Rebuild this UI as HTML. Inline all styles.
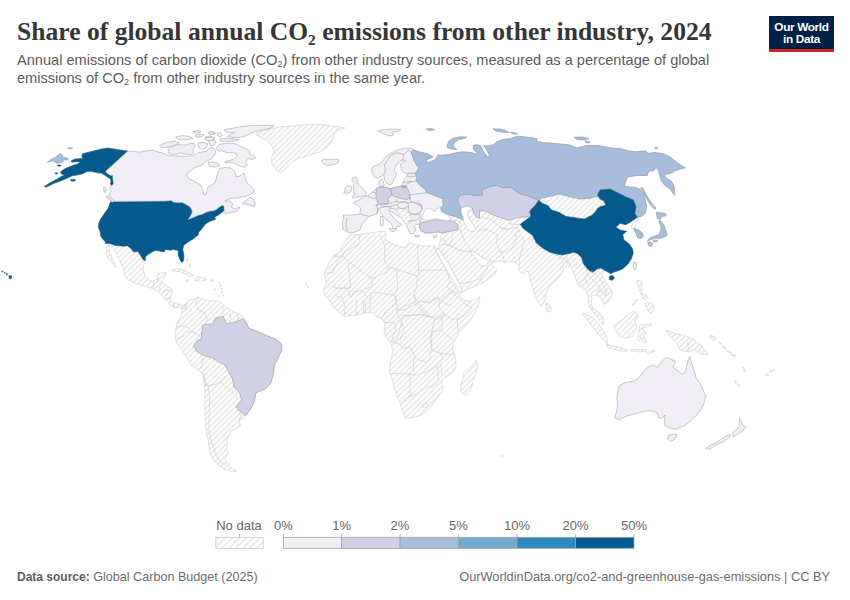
<!DOCTYPE html>
<html><head><meta charset="utf-8">
<style>
html,body{margin:0;padding:0;background:#fff;}
body{width:850px;height:600px;position:relative;overflow:hidden;font-family:"Liberation Sans",sans-serif;}
.t{position:absolute;white-space:nowrap;}
#title{left:17px;top:16.5px;font-family:"Liberation Serif",serif;font-weight:bold;font-size:25.6px;color:#363636;}
#sub1,#sub2{left:17px;font-size:14.6px;color:#5b5b5b;}
#sub1{top:52px;} #sub2{top:70px;}
#src{left:17px;top:569.6px;font-size:12.6px;color:#6b6b6b;}
#url{right:20px;top:569px;font-size:12.8px;color:#6b6b6b;}
#logo{position:absolute;left:769px;top:16px;width:65px;height:36px;background:#002147;}
#logo .bar{position:absolute;left:0;bottom:0;width:100%;height:3px;background:#ce261e;}
#logo .tx{position:absolute;left:0;top:4.5px;width:100%;text-align:center;color:#fff;font-weight:bold;font-size:11.8px;line-height:12.3px;letter-spacing:-0.35px;}
svg{position:absolute;left:0;top:0;}
</style></head><body>
<div class="t" id="title">Share of global annual CO<span style="font-size:0.6em;vertical-align:-0.3em">2</span> emissions from other industry, 2024</div>
<div class="t" id="sub1">Annual emissions of carbon dioxide (CO<span style="font-size:0.62em;vertical-align:-0.25em">2</span>) from other industry sources, measured as a percentage of global</div>
<div class="t" id="sub2">emissions of CO<span style="font-size:0.62em;vertical-align:-0.25em">2</span> from other industry sources in the same year.</div>
<div id="logo"><div class="tx">Our World<br>in Data</div><div class="bar"></div></div>

<svg width="850" height="600" viewBox="0 0 850 600">
<defs>
<pattern id="h" patternUnits="userSpaceOnUse" width="4" height="4" patternTransform="rotate(-45)"><rect x="-1" y="-1" width="6" height="6" fill="#fff"/><line x1="-1" y1="2" x2="5" y2="2" stroke="#e0e0e0" stroke-width="1.3"/></pattern>
<pattern id="h2" patternUnits="userSpaceOnUse" width="7" height="7"><rect width="7" height="7" fill="#fff"/><path d="M-1,1 l2,-2 M0,7 l7,-7 M6,8 l2,-2" stroke="#e6e6e6" stroke-width="1.3"/></pattern>
</defs>
<g id="legend" font-family="Liberation Sans" font-size="13" fill="#666">
<text x="216.2" y="530">No data</text>
<rect x="215.8" y="537.3" width="47.4" height="11" fill="url(#h2)" stroke="#cacaca" stroke-width="0.8"/>
<line x1="239.5" y1="534" x2="239.5" y2="537.3" stroke="#aaa" stroke-width="0.8"/>
<g stroke="#a3a3a3" stroke-width="0.8">
<rect x="283.4" y="537.3" width="58.2" height="11" fill="#f1eef6"/>
<rect x="341.6" y="537.3" width="58.4" height="11" fill="#d0d1e6"/>
<rect x="400" y="537.3" width="58.4" height="11" fill="#a6bddb"/>
<rect x="458.4" y="537.3" width="58.6" height="11" fill="#74a9cf"/>
<rect x="517" y="537.3" width="58.6" height="11" fill="#2b8cbe"/>
<rect x="575.6" y="537.3" width="58.4" height="11" fill="#045a8d"/>
<path d="M283.4,534V537.3M341.6,534V537.3M400,534V537.3M458.4,534V537.3M517,534V537.3M575.6,534V537.3M634,534V537.3" fill="none"/>
</g>
<text x="283.4" y="530" text-anchor="middle">0%</text>
<text x="341.6" y="530" text-anchor="middle">1%</text>
<text x="400" y="530" text-anchor="middle">2%</text>
<text x="458.4" y="530" text-anchor="middle">5%</text>
<text x="517" y="530" text-anchor="middle">10%</text>
<text x="575.6" y="530" text-anchor="middle">20%</text>
<text x="634" y="530" text-anchor="middle">50%</text>
</g>
<g id="map" stroke-width="0.6" stroke-linejoin="round">
<path d="M104.9,243.2 110.1,243.6 115.3,245.4 124.0,246.2 127.5,245.8 131.0,248.4 133.6,251.9 137.9,251.4 140.5,255.3 143.1,259.7 145.3,260.5 144.0,264.0 143.1,270.1 144.8,275.3 148.3,279.6 152.6,281.4 157.8,278.8 158.2,273.8 164.1,272.1 166.5,273.2 164.1,277.4 161.8,282.1 168.8,286.8 172.4,290.3 171.2,295.0 170.0,299.7 173.5,303.2 179.4,304.4 183.0,305.6 186.0,305.0 190.0,301.0 194.0,299.0 196.0,302.0 190.0,307.0 185.3,310.3 183.0,308.0 179.4,306.8 174.7,308.0 170.0,304.4 165.3,299.7 161.8,295.0 155.9,290.3 151.8,288.3 146.6,286.6 139.6,284.8 132.7,282.2 126.6,278.8 124.0,274.4 123.2,267.5 120.5,262.3 117.1,255.3 112.7,246.7 110.1,245.0 109.3,248.4 110.1,253.6 112.7,259.7 116.2,265.8 115.3,267.5 111.0,261.4 106.7,256.2 106.7,251.0 105.8,243.2Z" fill="url(#h)" stroke="#cfcfcf"/>
<path d="M171.2,270.3 177.0,268.5 182.9,269.7 188.8,272.6 194.1,275.6 188.8,276.2 185.3,273.8 179.4,271.5 174.7,271.5Z" fill="url(#h)" stroke="#cfcfcf"/>
<path d="M197.0,276.8 202.9,277.4 207.6,279.7 200.6,281.5 194.7,280.3Z" fill="url(#h)" stroke="#cfcfcf"/>
<path d="M185.3,280.0 189.4,280.2 188.5,281.6 185.8,281.3Z" fill="url(#h)" stroke="#cfcfcf"/>
<path d="M210.0,280.0 213.5,280.0 213.0,281.2 210.3,281.2Z" fill="url(#h)" stroke="#cfcfcf"/>
<path d="M187.0,259.0 188.5,259.5 188.0,262.0 186.8,261.0Z" fill="url(#h)" stroke="#cfcfcf"/>
<path d="M189.5,264.0 191.0,265.0 190.2,266.8 189.2,265.5Z" fill="url(#h)" stroke="#cfcfcf"/>
<path d="M256.0,133.0 270.0,129.0 280.0,127.0 300.0,125.0 320.0,124.4 334.0,126.0 345.0,128.0 338.0,130.0 334.0,134.0 332.0,142.0 326.0,148.0 320.0,152.0 310.0,155.0 300.0,158.0 292.0,162.0 286.0,168.0 281.0,173.0 276.0,170.0 272.0,164.0 271.0,158.0 274.0,152.0 272.0,146.0 266.0,140.0 260.0,137.0 256.0,135.0Z" fill="url(#h)" stroke="#cfcfcf"/>
<path d="M111.0,201.4 165.0,201.1 171.9,200.4 172.6,201.9 176.5,202.6 182.6,202.6 185.6,204.2 189.5,206.5 191.8,209.5 192.1,212.6 190.2,216.4 188.3,219.5 191.8,217.9 195.6,216.4 197.9,215.3 201.7,214.5 206.3,212.2 210.1,211.1 213.9,210.7 217.0,209.1 220.0,206.5 222.3,205.3 223.9,206.1 224.3,210.3 223.1,211.4 218.5,214.9 214.7,217.2 215.5,219.5 210.9,221.0 207.8,222.5 205.5,224.1 203.2,227.1 200.9,230.0 198.9,231.9 198.1,234.9 193.5,238.8 187.4,242.6 183.6,245.6 182.8,249.5 184.0,255.6 183.6,260.9 181.7,262.5 179.8,259.4 178.2,255.6 178.2,250.2 175.9,250.2 173.6,249.5 170.6,250.2 165.2,249.5 164.5,251.8 161.4,251.8 159.9,251.0 155.3,250.6 151.5,252.5 147.6,254.8 145.4,257.1 145.3,260.5 143.1,259.7 140.5,255.3 137.9,251.4 133.6,251.9 131.0,248.4 127.5,245.8 124.0,246.2 115.3,245.4 110.1,243.6 104.9,243.2 105.8,242.2 103.3,239.7 100.8,236.3 100.0,231.3 98.3,227.2 98.8,223.0 100.8,218.8 104.2,213.8 108.3,208.0 110.0,203.0Z" fill="#045a8d" stroke="#2f5f85"/>
<path d="M127.9,151.1 120.5,150.1 114.2,149.0 107.8,147.9 101.4,149.0 95.1,150.6 88.7,152.2 82.4,153.8 81.8,157.0 82.9,159.1 80.3,158.5 75.0,159.1 71.3,160.7 71.8,162.2 77.1,161.7 80.3,162.2 78.1,163.8 72.8,165.4 67.5,167.5 63.3,169.7 60.7,171.8 61.2,173.9 64.4,175.0 61.2,176.5 55.9,179.7 50.6,182.4 44.2,186.6 46.4,187.1 53.8,183.4 61.2,180.8 67.5,178.1 71.8,176.0 77.1,175.0 82.4,173.9 86.6,171.8 89.8,171.3 93.0,171.8 97.2,172.8 101.0,173.0 105.0,175.3 107.7,177.3 110.3,178.7 111.0,181.3 110.3,184.0 111.7,185.7 113.7,184.0 113.0,180.0 112.7,175.3 110.3,175.3 107.0,173.3 105.7,171.3Z" fill="#045a8d" stroke="#2f5f85"/>
<path d="M70.7,179.6 73.5,179.2 76.0,180.0 73.5,181.3 71.0,181.0Z" fill="#045a8d" stroke="#2f5f85"/>
<path d="M57.0,165.2 59.5,164.9 61.2,165.6 59.0,166.5Z" fill="#045a8d" stroke="#2f5f85"/>
<path d="M54.8,173.0 57.0,172.8 58.0,173.6 56.0,174.2Z" fill="#045a8d" stroke="#2f5f85"/>
<path d="M9.0,275.5 11.5,276.0 11.5,278.5 9.5,279.0 9.0,277.0Z" fill="#045a8d" stroke="#2f5f85"/>
<path d="M6.3,273.5 7.8,274.0 7.3,275.0 6.0,274.6Z" fill="#045a8d" stroke="#2f5f85"/>
<path d="M4.2,272.2 5.4,272.5 5.0,273.3 4.0,273.0Z" fill="#045a8d" stroke="#2f5f85"/>
<path d="M1.8,270.8 2.9,271.0 2.7,271.9 1.6,271.7Z" fill="#045a8d" stroke="#2f5f85"/>
<path d="M127.9,151.1 140.0,152.0 152.0,150.0 158.0,152.0 162.8,153.0 168.0,155.5 178.3,156.2 187.3,156.2 193.8,155.5 197.7,153.0 202.9,151.6 206.7,151.6 208.5,148.5 212.0,147.5 215.0,149.5 216.0,153.0 213.2,156.8 210.6,159.4 206.7,160.7 202.0,165.0 194.0,168.0 188.0,173.0 187.0,175.0 189.0,179.0 194.0,181.0 195.0,182.0 201.0,185.0 202.5,189.0 204.0,195.0 206.0,194.0 208.0,187.0 210.0,186.0 215.0,183.0 216.0,180.0 217.0,175.0 220.0,168.0 222.0,168.0 225.0,167.5 231.0,168.0 235.0,172.0 236.0,176.5 240.0,176.0 244.0,173.0 245.0,177.0 247.0,183.0 251.0,186.0 254.0,190.0 253.0,193.0 249.0,195.0 243.0,197.0 237.0,198.0 233.0,198.0 229.0,199.0 225.0,201.0 230.0,201.0 233.0,204.0 231.0,207.0 235.0,209.0 239.0,207.0 240.0,208.0 237.0,211.0 229.0,213.0 225.0,214.0 225.0,211.0 224.3,210.3 223.9,206.1 222.3,205.3 220.0,206.5 217.0,209.1 213.9,210.7 210.1,211.1 206.3,212.2 201.7,214.5 197.9,215.3 195.6,216.4 191.8,217.9 188.3,219.5 190.2,216.4 192.1,212.6 191.8,209.5 189.5,206.5 185.6,204.2 182.6,202.6 176.5,202.6 172.6,201.9 171.9,200.4 165.0,201.1 111.0,201.4 109.0,199.5 107.0,197.5 109.0,195.3 111.0,191.3 109.7,190.0 111.0,186.5 111.7,185.7 113.7,184.0 113.0,180.0 112.7,175.3 110.3,175.3 107.0,173.3 105.7,171.3Z" fill="#f1eef6" stroke="#a8a8a8"/>
<path d="M106.3,196.5 108.0,196.0 112.0,199.0 113.7,201.0 112.5,202.0 109.5,199.5 107.0,198.0Z" fill="#f1eef6" stroke="#a8a8a8"/>
<path d="M103.5,187.5 105.0,187.3 106.5,189.0 105.5,192.5 104.0,192.0Z" fill="#f1eef6" stroke="#a8a8a8"/>
<path d="M242.0,204.0 247.0,200.0 250.0,197.0 253.0,199.0 255.0,202.0 255.0,206.0 252.0,206.0 249.0,205.0 245.0,204.0Z" fill="#f1eef6" stroke="#a8a8a8"/>
<path d="M159.5,145.8 165.3,142.6 174.4,141.3 179.6,142.6 174.4,145.2 168.0,147.0 161.5,147.8Z" fill="#f1eef6" stroke="#a8a8a8"/>
<path d="M169.2,147.8 178.3,144.5 184.8,145.2 188.6,143.9 193.8,143.2 195.1,146.5 192.5,149.7 193.8,153.0 190.0,154.5 184.8,154.0 179.6,153.0 175.7,154.5 169.2,154.0 168.0,151.6Z" fill="#f1eef6" stroke="#a8a8a8"/>
<path d="M208.0,162.0 217.0,162.6 219.7,165.9 214.5,167.2 209.3,165.9Z" fill="#f1eef6" stroke="#a8a8a8"/>
<path d="M216.3,148.3 218.9,144.9 224.1,143.6 231.0,143.1 236.2,144.0 241.4,146.6 245.7,148.3 250.1,150.9 249.2,153.5 253.5,156.1 256.1,157.9 251.8,159.6 248.3,158.7 245.7,162.2 247.5,164.8 244.9,167.4 240.5,166.5 237.1,164.8 233.6,163.1 230.1,162.2 225.8,163.1 224.9,161.3 230.1,160.5 234.5,158.7 237.1,156.1 236.2,153.5 232.7,152.7 226.7,152.7 222.3,150.9 218.0,150.9Z" fill="#f1eef6" stroke="#a8a8a8"/>
<path d="M235.3,127.5 244.0,126.2 252.7,125.4 261.3,125.4 274.3,125.4 272.6,127.5 265.7,129.3 257.0,131.0 251.8,132.7 244.9,136.2 237.9,137.9 231.0,137.1 227.5,136.2 231.0,134.5 234.5,132.7 231.0,132.7 225.8,131.9 224.1,130.1 227.5,128.8 232.7,128.4Z" fill="#f1eef6" stroke="#a8a8a8"/>
<path d="M219.7,138.8 226.7,138.4 233.6,138.8 238.8,139.7 236.2,141.0 227.5,141.4 220.6,141.0Z" fill="#f1eef6" stroke="#a8a8a8"/>
<path d="M208.5,132.5 213.0,131.9 215.4,133.5 211.0,134.5Z" fill="#f1eef6" stroke="#a8a8a8"/>
<path d="M217.1,133.0 220.0,132.7 222.3,135.5 220.0,137.1 217.5,135.5Z" fill="#f1eef6" stroke="#a8a8a8"/>
<path d="M205.0,137.0 210.0,136.2 214.5,137.5 212.0,140.5 206.0,140.0Z" fill="#f1eef6" stroke="#a8a8a8"/>
<path d="M175.7,137.0 182.0,135.5 190.0,136.5 193.0,138.5 186.0,139.8 178.0,139.8Z" fill="#f1eef6" stroke="#a8a8a8"/>
<path d="M195.0,135.5 200.0,134.0 204.0,135.0 201.0,137.0 196.0,137.0Z" fill="#f1eef6" stroke="#a8a8a8"/>
<path d="M208.0,132.5 213.0,131.5 215.0,133.5 210.0,134.5Z" fill="#f1eef6" stroke="#a8a8a8"/>
<path d="M193.0,131.5 198.0,130.5 201.0,132.0 196.0,133.0Z" fill="#f1eef6" stroke="#a8a8a8"/>
<path d="M206.0,137.5 212.0,137.0 215.0,139.5 210.0,141.0 206.0,140.0Z" fill="#f1eef6" stroke="#a8a8a8"/>
<path d="M198.0,143.0 203.0,142.2 207.7,143.5 206.5,147.5 202.0,149.6 198.5,147.5Z" fill="#f1eef6" stroke="#a8a8a8"/>
<path d="M208.5,140.8 213.0,140.2 216.0,141.8 214.5,145.0 210.5,146.0Z" fill="#f1eef6" stroke="#a8a8a8"/>
<path d="M47.4,162.2 51.7,159.1 55.9,157.0 60.1,153.2 62.2,154.8 63.3,157.5 67.5,158.0 68.1,159.6 64.4,160.1 61.2,162.8 57.0,163.3 52.7,160.7 49.5,161.7Z" fill="#a6bddb" stroke="#8e98a6"/>
<path d="M67.5,148.3 70.0,147.4 72.8,148.2 70.5,149.0Z" fill="#a6bddb" stroke="#8e98a6"/>
<path d="M321.0,161.0 324.0,159.0 330.0,159.6 338.0,159.0 339.0,162.0 334.0,164.4 328.0,165.6 324.0,164.0Z" fill="#f1eef6" stroke="#a8a8a8"/>
<path d="M378.0,131.0 384.0,129.5 392.0,129.0 401.0,129.5 398.0,131.5 392.0,132.0 394.0,135.0 389.0,136.0 384.0,134.0Z" fill="#f1eef6" stroke="#a8a8a8"/>
<path d="M186.0,309.0 184.0,305.0 190.0,300.0 198.0,297.0 203.0,299.0 210.0,301.0 220.0,301.0 226.0,307.0 234.0,312.0 242.0,315.0 246.0,320.0 248.7,328.3 256.1,331.1 267.1,335.7 276.2,339.4 281.7,343.9 281.7,350.4 278.1,357.7 274.4,365.0 273.5,374.2 270.7,383.4 265.2,388.9 256.1,392.6 254.2,401.7 250.6,409.1 246.0,415.5 243.4,419.0 239.0,420.5 240.5,425.3 236.5,428.5 230.8,431.0 229.4,435.5 226.6,440.0 228.0,445.0 226.0,448.0 228.7,452.5 225.0,458.0 226.6,462.0 231.0,468.0 237.0,471.0 232.0,472.0 225.0,469.4 218.0,465.0 214.0,461.0 210.0,454.0 209.0,445.0 207.5,437.0 206.0,431.0 205.0,416.0 205.0,394.0 204.0,382.0 203.0,374.0 198.0,370.0 192.0,366.0 187.0,358.0 182.0,350.0 176.0,342.0 175.0,332.0 177.0,323.0 181.0,316.0 182.0,308.0Z" fill="url(#h)" stroke="#cfcfcf"/>
<path d="M202.8,324.7 213.9,323.8 214.8,318.3 223.0,316.4 226.7,323.8 235.9,321.9 243.2,318.3 246.9,324.7 248.7,328.3 256.1,331.1 267.1,335.7 276.2,339.4 281.7,343.9 281.7,350.4 278.1,357.7 274.4,365.0 273.5,374.2 270.7,383.4 265.2,388.9 256.1,392.6 254.2,401.7 250.6,409.1 246.0,415.5 239.5,410.9 235.9,407.2 241.4,399.9 239.5,392.6 234.0,387.1 232.2,377.9 226.7,368.7 224.9,365.0 217.5,361.4 212.0,357.7 204.7,355.9 201.0,354.0 195.5,350.4 193.7,344.9 197.3,340.3 201.0,339.4 201.9,332.0Z" fill="#d0d1e6" stroke="#9a9a9a"/>
<path d="M435.3,250.3 435.1,246.2 429.4,245.8 424.4,245.8 418.7,245.4 413.7,243.7 409.6,242.9 407.1,244.9 404.7,247.8 399.7,246.6 393.1,244.1 387.4,241.2 384.9,238.4 385.7,234.2 384.9,231.4 379.8,231.4 373.1,232.5 365.3,233.6 359.7,234.7 350.8,234.7 348.5,237.0 345.2,241.4 341.8,245.9 341.3,250.3 337.3,253.7 334.0,256.0 330.6,260.4 327.3,266.0 325.0,270.5 324.5,273.8 325.6,279.4 326.2,283.9 324.0,288.3 323.4,292.8 325.6,296.6 329.4,300.4 332.2,305.0 336.0,309.8 340.7,313.5 344.5,316.4 348.2,315.9 355.8,315.0 362.4,313.5 369.0,312.6 372.7,313.0 375.5,316.4 380.2,317.8 384.0,321.0 385.0,325.8 384.0,331.4 385.9,337.0 389.6,341.8 391.5,345.0 392.5,351.7 390.0,363.3 389.7,373.3 393.3,383.3 395.8,393.3 400.0,403.3 403.3,413.3 405.8,418.3 413.3,417.5 421.7,415.0 428.3,410.0 433.3,403.3 436.7,398.3 439.2,395.0 442.5,391.7 443.3,387.5 441.7,383.3 442.5,380.0 446.7,376.7 450.8,374.2 454.2,370.8 455.8,366.7 455.8,360.0 455.0,356.0 452.8,350.0 453.3,343.3 455.8,338.3 458.3,333.3 461.7,330.0 466.7,325.0 471.7,318.3 476.7,310.0 479.2,301.7 480.0,296.7 475.0,299.2 470.0,301.7 463.3,300.0 460.0,295.0 455.0,286.7 450.0,280.0 446.0,269.0 440.7,259.7Z" fill="url(#h)" stroke="#cfcfcf"/>
<path d="M475.8,360.0 477.5,364.2 477.5,369.2 475.0,375.0 473.3,381.7 470.8,389.2 467.5,394.2 464.2,395.0 460.8,391.7 460.8,385.0 462.9,378.3 463.3,372.5 466.7,370.0 471.7,365.8 474.2,362.5Z" fill="url(#h)" stroke="#cfcfcf"/>
<path d="M412.8,149.8 420.0,152.0 428.0,154.0 433.0,157.0 426.0,160.0 428.0,163.0 436.0,159.0 438.0,155.0 440.0,155.3 448.5,154.6 454.1,153.2 462.6,151.8 471.1,152.5 475.3,153.9 478.1,153.9 473.9,149.7 473.2,145.4 476.7,144.7 481.0,146.1 482.4,149.7 485.2,153.9 488.0,157.4 489.4,155.3 486.6,149.7 483.8,145.4 488.0,146.1 493.7,144.7 496.5,141.9 502.1,139.8 510.6,138.4 517.7,136.2 524.7,136.9 531.8,137.7 537.5,139.1 536.0,141.2 543.1,142.6 553.0,143.3 560.0,144.0 569.2,144.9 576.8,147.9 586.0,145.6 598.2,145.6 610.5,147.9 621.2,148.7 628.8,151.0 636.5,151.8 645.6,151.0 648.7,153.3 654.8,152.5 664.0,154.0 670.1,157.1 676.2,161.7 677.7,163.2 685.4,167.8 679.3,169.3 674.7,170.9 673.1,172.4 667.0,173.9 664.0,175.5 667.0,178.5 671.6,181.6 673.9,186.2 674.7,195.3 670.1,189.2 664.0,184.6 660.9,180.0 659.4,173.9 657.9,169.3 656.3,167.8 653.3,170.9 648.7,170.9 647.2,175.5 636.5,175.5 627.3,177.0 624.2,186.2 628.8,186.9 636.5,187.7 639.5,189.2 644.0,195.0 646.7,206.7 645.3,213.3 641.3,216.7 637.3,217.3 638.7,218.7 634.7,226.7 634.7,228.7 638.7,230.0 642.7,233.3 643.3,236.7 640.0,238.7 637.3,237.3 636.0,233.3 633.3,228.7 631.3,228.0 630.7,222.7 625.3,224.7 620.0,223.3 616.0,227.3 620.0,230.0 626.7,231.3 622.7,234.7 624.0,240.0 629.3,244.0 632.7,249.3 633.3,253.3 631.3,258.7 628.0,264.0 622.7,268.8 617.5,271.0 612.5,272.5 611.0,274.0 609.0,272.5 605.0,270.6 601.0,272.5 602.5,275.0 604.0,279.0 606.0,282.5 610.0,287.5 612.5,292.5 611.0,297.5 607.5,302.5 604.0,304.4 602.5,300.0 599.0,296.0 595.0,295.0 591.3,296.3 591.9,298.8 591.3,303.8 592.5,307.5 596.3,310.6 600.0,313.8 603.1,317.5 603.8,323.1 603.1,325.0 600.0,321.3 596.3,316.3 593.1,311.9 590.0,307.5 588.5,302.5 588.1,296.3 586.0,291.0 582.5,287.5 579.0,286.0 576.0,280.0 574.0,273.8 571.0,267.5 567.5,262.5 565.0,262.0 563.0,263.0 564.0,268.0 562.0,274.0 556.0,280.0 550.0,286.0 546.0,294.0 544.0,303.0 541.0,307.0 537.0,300.0 534.0,292.0 531.0,283.0 530.0,278.0 529.0,273.0 527.0,271.0 524.0,274.0 520.0,272.0 518.0,268.0 520.0,266.0 516.0,263.0 512.7,261.5 507.3,262.3 499.3,261.0 492.7,261.7 492.7,265.0 496.7,269.0 495.3,274.3 490.0,278.3 483.3,282.3 475.3,286.3 468.7,289.0 463.3,291.7 461.3,291.7 459.3,283.7 455.3,275.7 448.7,266.3 443.3,257.0 438.0,249.0 439.3,245.0 440.7,237.0 443.0,233.5 447.0,232.5 442.4,233.0 438.1,231.9 431.8,233.0 425.4,233.0 421.2,230.8 419.6,227.7 419.6,224.5 420.0,221.0 422.0,217.0 430.0,213.0 441.0,209.0 445.0,205.0 444.0,199.0 428.0,192.0 418.0,180.0 415.3,172.6 418.7,167.0 414.0,157.0Z" fill="url(#h)" stroke="#cfcfcf"/>
<path d="M546.0,303.5 548.5,304.0 551.0,308.0 550.0,312.0 547.0,311.5 546.0,307.0Z" fill="url(#h)" stroke="#cfcfcf"/>
<path d="M582.1,314.0 588.5,321.7 594.2,328.8 599.8,335.9 605.5,343.0 607.6,344.4 606.9,337.3 604.1,331.7 601.2,327.4 597.0,321.7 592.7,317.5 587.1,314.7 582.8,313.2Z" fill="url(#h)" stroke="#cfcfcf"/>
<path d="M606.0,344.0 612.0,345.5 618.0,347.0 624.0,348.5 628.0,350.0 626.0,351.5 620.0,350.5 614.0,349.5 608.0,348.0Z" fill="url(#h)" stroke="#cfcfcf"/>
<path d="M614.0,326.0 618.0,322.0 622.0,320.0 628.0,314.0 634.0,311.0 638.0,315.0 635.0,322.0 637.0,328.0 632.0,337.0 624.0,338.0 618.0,335.0 615.0,330.0Z" fill="url(#h)" stroke="#cfcfcf"/>
<path d="M640.0,325.0 645.0,324.5 651.0,324.0 651.5,325.5 645.0,327.0 642.5,329.0 646.0,333.0 643.5,335.0 646.5,342.0 644.5,343.0 641.0,337.0 640.0,341.0 638.0,340.0 638.5,333.0 639.5,328.0Z" fill="url(#h)" stroke="#cfcfcf"/>
<path d="M637.0,280.5 640.5,280.0 642.0,284.0 641.0,288.0 643.0,291.0 640.5,293.0 638.5,289.0 637.5,285.0Z" fill="url(#h)" stroke="#cfcfcf"/>
<path d="M645.0,303.0 650.0,302.5 653.5,305.0 654.0,310.0 651.0,313.0 648.0,311.0 646.0,307.0Z" fill="url(#h)" stroke="#cfcfcf"/>
<path d="M641.5,293.5 646.0,295.0 648.0,298.0 645.0,300.0 642.0,297.0Z" fill="url(#h)" stroke="#cfcfcf"/>
<path d="M637.0,299.0 637.8,299.8 633.0,306.0 632.2,305.2Z" fill="url(#h)" stroke="#cfcfcf"/>
<path d="M631.0,349.6 636.5,349.4 636.0,351.3 631.5,351.5Z" fill="url(#h)" stroke="#cfcfcf"/>
<path d="M637.5,349.6 646.5,349.5 646.0,351.8 638.0,352.0Z" fill="url(#h)" stroke="#cfcfcf"/>
<path d="M647.0,352.5 654.0,350.0 655.0,351.0 648.5,354.3Z" fill="url(#h)" stroke="#cfcfcf"/>
<path d="M666.0,330.0 676.0,334.0 684.0,335.0 694.0,340.0 702.0,346.0 708.0,355.0 700.0,354.0 694.0,350.0 688.0,352.0 680.0,350.0 676.0,342.0 672.0,338.0 668.0,334.0Z" fill="url(#h)" stroke="#cfcfcf"/>
<path d="M709.0,336.0 714.0,337.0 716.0,340.0 712.0,340.0Z" fill="url(#h)" stroke="#cfcfcf"/>
<path d="M619.2,385.6 624.0,383.2 633.5,380.9 638.2,378.5 643.0,372.2 647.7,367.4 652.5,365.0 657.2,367.4 660.4,362.7 665.9,357.6 671.5,359.5 675.4,361.1 673.0,367.4 677.8,370.6 682.5,374.5 685.7,370.6 687.3,362.7 689.7,356.6 692.0,364.2 693.6,369.0 696.0,377.7 699.9,383.2 703.1,389.6 705.5,395.9 704.7,402.2 701.5,408.5 696.8,414.9 690.4,421.2 684.1,425.9 676.2,429.1 671.5,428.3 665.1,425.9 664.3,419.6 665.1,414.9 662.0,418.0 658.8,418.0 657.2,413.3 652.5,410.9 646.1,410.9 639.8,412.5 633.5,414.1 625.6,416.5 619.2,419.6 614.5,418.0 616.1,413.3 617.7,405.4 616.9,397.5 617.7,391.1Z" fill="#f1eef6" stroke="#a8a8a8"/>
<path d="M668.5,435.0 677.0,434.0 675.0,439.0 670.5,441.8 667.5,439.0Z" fill="#f1eef6" stroke="#a8a8a8"/>
<path d="M739.5,418.5 741.5,421.0 742.0,424.5 746.5,427.0 744.0,430.0 738.0,434.0 733.0,437.0 733.0,432.0 737.0,429.0 739.5,425.5 739.0,422.0Z" fill="#f1eef6" stroke="#a8a8a8"/>
<path d="M730.0,434.5 730.5,436.5 723.0,442.0 716.0,445.0 709.0,449.5 705.5,448.5 710.0,445.5 718.0,441.5 727.0,435.5Z" fill="#f1eef6" stroke="#a8a8a8"/>
<path d="M376.7,188.2 381.4,186.8 382.4,186.8 385.2,187.3 390.8,188.7 394.6,187.3 400.2,187.3 401.2,186.0 403.0,182.6 404.0,179.8 407.0,176.0 407.0,173.8 416.0,173.8 417.0,173.0 418.0,180.0 428.0,192.0 444.0,199.0 445.0,205.0 441.0,209.0 430.0,213.0 422.0,217.0 420.0,221.0 419.6,224.5 417.0,224.0 414.5,226.0 415.5,230.0 414.0,233.5 411.0,234.0 410.0,233.5 408.5,230.5 407.0,226.0 406.3,224.5 404.0,221.5 401.8,218.5 398.8,216.3 395.0,214.0 391.3,211.8 389.0,209.5 389.8,212.5 392.8,217.0 396.5,220.8 399.5,223.0 401.8,224.5 400.0,226.5 397.3,226.0 396.5,228.0 395.8,230.0 393.5,229.4 392.5,226.0 390.5,223.0 386.0,219.5 381.0,213.3 378.0,209.5 376.7,214.0 369.0,216.4 366.0,219.5 361.4,225.6 360.0,230.0 353.8,232.5 349.0,233.0 347.0,231.7 343.0,229.4 342.3,222.5 343.8,218.0 343.0,215.0 352.0,215.0 360.0,214.0 360.5,208.0 358.0,205.0 353.2,203.3 355.0,201.4 358.8,200.5 360.7,198.6 363.5,197.2 367.3,195.8 369.2,194.8 372.0,192.0 374.8,190.1Z" fill="#f1eef6" stroke="#a8a8a8"/>
<path d="M371.8,169.3 372.5,167.0 377.8,164.8 381.5,162.5 384.5,158.8 387.5,155.8 391.3,152.8 396.5,150.5 401.8,148.6 407.0,147.9 411.5,148.6 413.8,149.8 411.5,152.8 413.0,157.3 414.5,161.0 416.8,165.5 419.0,167.8 417.5,170.8 415.3,173.0 411.5,173.0 407.0,173.4 403.3,172.3 401.8,170.0 401.0,167.0 400.3,164.0 402.5,162.5 405.5,161.0 404.0,159.9 400.3,161.0 397.3,164.0 395.0,167.8 394.3,170.8 396.5,173.0 395.8,176.0 394.3,179.0 392.8,182.0 391.3,184.3 389.8,185.0 386.8,183.5 384.5,179.8 383.8,174.5 381.5,176.0 377.8,178.3 374.8,177.5 372.5,174.5 371.8,170.0Z" fill="#f1eef6" stroke="#a8a8a8"/>
<path d="M379.5,186.4 378.6,182.6 379.5,180.2 382.4,179.3 383.3,181.6 384.2,184.5 382.4,186.8Z" fill="#f1eef6" stroke="#a8a8a8"/>
<path d="M352.2,177.9 356.0,177.0 357.9,179.8 357.0,182.6 358.8,184.5 361.6,187.3 364.5,190.1 366.4,193.0 365.4,195.3 361.6,196.2 357.0,196.7 352.2,198.1 353.2,195.8 355.0,193.9 353.2,192.0 354.1,189.2 353.2,186.4 354.1,183.5 352.2,180.7Z" fill="#f1eef6" stroke="#a8a8a8"/>
<path d="M344.7,191.1 345.6,187.3 348.5,185.4 351.3,186.4 351.8,189.2 350.4,192.0 346.6,193.4 343.8,192.9Z" fill="#f1eef6" stroke="#a8a8a8"/>
<path d="M389.0,228.6 393.0,228.4 396.6,229.0 394.0,231.7 390.0,230.5Z" fill="#f1eef6" stroke="#a8a8a8"/>
<path d="M380.5,216.5 382.5,216.5 383.5,221.0 383.0,226.0 380.5,225.5 380.0,221.0Z" fill="#f1eef6" stroke="#a8a8a8"/>
<path d="M396.5,208.8 402.5,208.4 405.5,209.5 408.0,212.0 410.0,215.0 411.5,218.5 410.8,221.5 408.5,223.0 406.3,224.5 404.0,221.5 401.8,218.5 399.8,216.8 398.5,213.5 397.3,211.8Z" fill="url(#h)" stroke="#cfcfcf"/>
<path d="M376.7,188.2 381.4,186.8 385.2,187.3 390.8,188.7 391.3,192.0 392.2,194.8 389.9,196.7 388.0,198.6 388.9,201.9 388.0,203.8 383.3,204.2 379.5,203.8 377.6,201.4 376.2,197.6 375.8,192.9Z" fill="#d0d1e6" stroke="#9a9a9a"/>
<path d="M390.8,188.7 394.6,187.3 401.2,186.4 406.8,187.3 408.7,191.1 409.6,194.8 410.1,198.6 405.9,199.5 401.2,198.6 396.5,197.2 392.7,195.8 392.2,194.8 391.3,192.0Z" fill="#d0d1e6" stroke="#9a9a9a"/>
<path d="M414.1,235.6 417.0,235.0 419.9,235.8 418.0,237.1 415.0,236.8Z" fill="#f1eef6" stroke="#a8a8a8"/>
<path d="M433.0,236.5 435.5,235.2 437.6,235.5 436.0,237.5 433.8,238.0Z" fill="#f1eef6" stroke="#a8a8a8"/>
<path d="M419.6,224.5 421.2,222.4 427.5,221.3 435.0,219.7 442.4,220.3 448.7,220.8 454.0,221.3 457.7,224.5 458.3,229.8 453.0,230.8 446.6,231.9 442.4,233.0 438.1,231.9 431.8,233.0 425.4,233.0 421.2,230.8 419.6,227.7Z" fill="#d0d1e6" stroke="#9a9a9a"/>
<path d="M457.7,198.4 461.2,194.8 468.2,194.1 475.3,195.5 482.4,194.8 481.7,189.9 488.0,187.1 496.5,184.9 502.1,187.8 510.6,187.1 520.5,194.1 527.6,195.5 537.5,199.8 539.0,200.3 535.0,205.7 532.3,208.3 529.7,211.7 531.0,216.3 529.0,216.7 521.9,216.7 516.3,218.1 509.2,220.3 502.1,218.1 493.7,215.3 485.2,211.1 479.5,210.4 479.5,218.1 476.7,217.4 473.2,212.5 472.5,208.2 469.7,206.8 465.4,206.8 462.6,210.4 459.8,208.2 457.7,202.6Z" fill="#d0d1e6" stroke="#9a9a9a"/>
<path d="M412.8,149.8 420.0,152.0 428.0,154.0 433.0,157.0 426.0,160.0 428.0,163.0 436.0,159.0 438.0,155.0 440.0,155.3 448.5,154.6 454.1,153.2 462.6,151.8 471.1,152.5 475.3,153.9 478.1,153.9 473.9,149.7 473.2,145.4 476.7,144.7 481.0,146.1 482.4,149.7 485.2,153.9 488.0,157.4 489.4,155.3 486.6,149.7 483.8,145.4 488.0,146.1 493.7,144.7 496.5,141.9 502.1,139.8 510.6,138.4 517.7,136.2 524.7,136.9 531.8,137.7 537.5,139.1 536.0,141.2 543.1,142.6 553.0,143.3 560.0,144.0 569.2,144.9 576.8,147.9 586.0,145.6 598.2,145.6 610.5,147.9 621.2,148.7 628.8,151.0 636.5,151.8 645.6,151.0 648.7,153.3 654.8,152.5 664.0,154.0 670.1,157.1 676.2,161.7 677.7,163.2 685.4,167.8 679.3,169.3 674.7,170.9 673.1,172.4 667.0,173.9 664.0,175.5 667.0,178.5 671.6,181.6 673.9,186.2 674.7,195.3 670.1,189.2 664.0,184.6 660.9,180.0 659.4,173.9 657.9,169.3 656.3,167.8 653.3,170.9 648.7,170.9 647.2,175.5 636.5,175.5 627.3,177.0 624.2,186.2 628.8,186.9 636.5,187.7 639.5,189.2 644.0,195.0 646.7,206.7 645.3,213.3 641.3,216.7 637.3,217.3 634.7,213.3 636.0,206.7 633.3,200.0 626.0,197.0 616.0,192.0 610.0,189.0 600.0,190.0 598.0,194.0 598.0,196.0 592.0,198.0 580.0,199.0 570.0,197.0 560.0,194.0 552.0,196.0 542.0,198.0 539.0,200.3 537.5,199.8 527.6,195.5 520.5,194.1 510.6,187.1 502.1,187.8 496.5,184.9 488.0,187.1 481.7,189.9 482.4,194.8 475.3,195.5 468.2,194.1 461.2,194.8 457.7,198.4 457.7,202.6 461.4,207.5 460.4,209.7 461.4,213.9 463.6,220.3 459.3,218.1 453.0,216.0 445.6,213.9 441.3,211.8 440.3,207.5 443.4,205.4 442.4,201.2 443.4,199.0 440.3,198.0 435.0,195.9 430.7,193.8 426.5,192.7 425.4,189.5 421.2,186.4 417.0,182.0 415.9,180.0 416.7,177.7 415.3,173.0 417.5,170.8 419.0,167.8 416.8,165.5 414.5,161.0 413.0,157.3 411.5,152.8Z" fill="#a6bddb" stroke="#8e98a6"/>
<path d="M401.5,185.8 406.0,185.5 406.5,187.3 402.0,187.5Z" fill="#a6bddb" stroke="#8e98a6"/>
<path d="M447.1,146.1 448.5,141.2 452.7,138.4 459.8,136.7 466.8,136.9 465.4,138.4 458.4,139.8 454.1,142.6 453.4,146.1 457.0,149.7 451.3,149.0 447.1,147.5Z" fill="#a6bddb" stroke="#8e98a6"/>
<path d="M493.0,128.8 500.0,129.0 506.0,130.5 509.2,132.5 503.0,132.3 496.0,131.0Z" fill="#a6bddb" stroke="#8e98a6"/>
<path d="M510.0,132.2 514.0,132.5 517.7,134.0 513.0,134.2Z" fill="#a6bddb" stroke="#8e98a6"/>
<path d="M426.0,129.0 432.0,128.5 435.0,130.0 429.0,130.5Z" fill="#a6bddb" stroke="#8e98a6"/>
<path d="M574.0,137.2 583.0,137.0 589.0,138.5 585.0,140.0 577.0,139.8Z" fill="#a6bddb" stroke="#8e98a6"/>
<path d="M654.8,147.5 657.9,147.2 657.5,148.7 655.0,148.6Z" fill="#a6bddb" stroke="#8e98a6"/>
<path d="M585.0,141.0 590.0,141.5 589.0,143.0 585.5,142.5Z" fill="#a6bddb" stroke="#8e98a6"/>
<path d="M640.5,187.5 643.0,188.0 646.0,194.0 649.5,200.0 652.5,204.0 656.0,208.0 654.7,209.5 651.0,205.5 648.0,201.0 644.5,195.0 641.5,190.0Z" fill="#a6bddb" stroke="#8e98a6"/>
<path d="M600.0,190.0 610.0,189.0 616.0,192.0 626.0,197.0 633.3,200.0 636.0,206.7 634.7,213.3 637.3,217.3 630.7,222.0 625.3,224.7 620.0,223.3 616.0,227.3 620.0,230.0 626.7,231.3 622.7,234.7 624.0,240.0 629.3,244.0 632.7,249.3 633.3,253.3 631.3,258.7 628.0,264.0 622.7,268.8 617.5,271.0 612.5,272.5 611.0,274.0 609.0,272.5 605.0,270.6 601.0,268.0 597.5,268.8 592.5,272.5 590.0,271.0 586.0,267.5 585.7,267.0 583.0,263.0 581.7,257.7 577.7,253.7 573.7,252.3 568.3,253.7 561.7,255.0 555.0,253.7 549.7,252.3 543.0,248.3 536.3,243.0 535.0,240.3 532.3,235.0 528.3,232.3 523.0,228.3 520.3,224.3 525.7,220.3 531.0,216.3 529.7,211.7 532.3,208.3 535.0,205.7 539.0,200.3 541.7,203.0 548.3,205.7 551.0,209.7 559.0,212.3 565.7,216.3 575.0,217.7 584.3,219.0 592.3,215.0 595.0,212.3 598.0,208.0 600.0,206.7 605.3,205.3 606.0,206.0 604.0,201.0 600.0,199.0 598.0,196.0 598.0,194.0Z" fill="#045a8d" stroke="#2f5f85"/>
<path d="M609.5,276.0 613.0,275.5 614.5,278.0 612.0,280.5 609.5,279.5Z" fill="#045a8d" stroke="#2f5f85"/>
<path d="M633.5,262.5 635.5,262.0 636.5,265.0 635.5,270.0 634.0,269.5 633.0,266.0Z" fill="#f1eef6" stroke="#a8a8a8"/>
<path d="M634.7,228.7 638.7,230.0 642.7,233.3 643.3,236.7 640.0,238.7 637.3,237.3 636.0,233.3 633.8,229.5Z" fill="#a6bddb" stroke="#8e98a6"/>
<path d="M658.7,221.3 660.0,220.0 664.0,225.3 666.0,230.7 667.3,235.3 665.3,236.7 661.3,238.0 658.7,238.7 656.0,238.0 652.7,239.3 649.3,240.0 647.3,241.3 648.3,239.5 650.7,237.3 654.7,236.0 658.7,234.7 660.0,232.0 661.3,228.0 660.0,224.0Z" fill="#a6bddb" stroke="#8e98a6"/>
<path d="M647.8,242.3 650.0,241.8 652.7,243.3 651.3,246.7 649.3,246.0 648.0,244.0Z" fill="#a6bddb" stroke="#8e98a6"/>
<path d="M653.0,240.5 657.5,240.0 657.0,241.8 653.5,242.0Z" fill="#a6bddb" stroke="#8e98a6"/>
<path d="M656.0,212.0 660.0,212.7 665.3,213.3 666.7,215.3 661.3,217.3 660.0,219.3 657.3,218.7 656.7,215.3Z" fill="#a6bddb" stroke="#8e98a6"/>
<path d="M422.8,215.0 425.4,209.7 428.6,208.0 431.8,209.7 433.9,211.8 437.0,208.6 440.3,207.5 441.3,211.8 445.6,213.9 449.8,216.5 450.8,219.7 446.6,220.8 440.3,219.2 435.0,218.7 430.7,219.2 426.5,220.3 422.8,219.2 421.7,217.0Z" fill="#fff" stroke="#c4c4c4"/>
<path d="M461.2,208.2 465.4,206.8 470.4,206.8 471.8,209.0 468.2,210.4 467.5,213.9 469.7,219.5 473.9,225.2 475.3,229.4 474.0,231.5 470.0,231.2 466.5,228.5 464.0,222.4 462.6,215.3 461.2,211.1Z" fill="#fff" stroke="#c4c4c4"/>
<path d="M435.3,249.1 438.8,249.1 443.5,256.2 449.4,264.4 454.1,273.8 458.8,282.1 461.2,288.0 461.8,293.2 460.0,292.6 457.6,288.0 454.1,282.1 449.4,275.0 444.7,266.8 440.0,258.5Z" fill="#fff" stroke="#c4c4c4"/>
<path d="M470.6,250.3 475.3,252.6 482.4,257.4 487.0,259.7 489.4,260.3 491.5,261.2 489.4,261.8 487.6,263.2 484.7,266.2 481.2,265.6 478.8,263.2 476.5,258.5 471.8,253.8Z" fill="#fff" stroke="#c4c4c4"/>
<path d="M219.0,282.5 220.0,282.5 220.0,283.5 219.0,283.5Z" fill="url(#h)" stroke="#cfcfcf"/>
<path d="M220.0,285.5 221.0,285.5 221.0,286.5 220.0,286.5Z" fill="url(#h)" stroke="#cfcfcf"/>
<path d="M221.0,288.5 222.0,288.5 222.0,289.5 221.0,289.5Z" fill="url(#h)" stroke="#cfcfcf"/>
<path d="M221.3,291.5 222.3,291.5 222.3,292.5 221.3,292.5Z" fill="url(#h)" stroke="#cfcfcf"/>
<path d="M223.0,295.0 224.0,295.0 224.0,296.0 223.0,296.0Z" fill="url(#h)" stroke="#cfcfcf"/>
<path d="M218.5,296.0 219.5,296.0 219.5,297.0 218.5,297.0Z" fill="url(#h)" stroke="#cfcfcf"/>
<path d="M214.5,289.0 215.5,289.0 215.5,290.0 214.5,290.0Z" fill="url(#h)" stroke="#cfcfcf"/>
<path d="M719.0,341.5 721.5,343.0 721.0,344.0 718.7,342.5Z" fill="url(#h)" stroke="#cfcfcf"/>
<path d="M722.5,346.0 726.0,348.0 725.5,349.0 722.0,347.0Z" fill="url(#h)" stroke="#cfcfcf"/>
<path d="M727.5,350.0 731.5,352.0 731.0,353.2 727.0,351.2Z" fill="url(#h)" stroke="#cfcfcf"/>
<path d="M731.0,354.0 735.5,355.5 735.0,356.7 731.0,355.2Z" fill="url(#h)" stroke="#cfcfcf"/>
<path d="M742.7,366.7 744.0,367.5 745.3,371.5 744.0,372.0Z" fill="url(#h)" stroke="#cfcfcf"/>
<path d="M734.0,380.7 736.0,381.0 740.0,385.5 739.0,386.7 735.0,383.0Z" fill="url(#h)" stroke="#cfcfcf"/>
<path d="M769.5,371.0 774.0,369.8 773.5,371.3 770.0,372.5Z" fill="url(#h)" stroke="#cfcfcf"/>
<path d="M766.0,374.0 768.0,373.5 768.5,375.5 766.5,376.0Z" fill="url(#h)" stroke="#cfcfcf"/>
<path d="M711.0,335.0 716.0,337.5 715.5,339.0 712.0,337.0Z" fill="url(#h)" stroke="#cfcfcf"/>
<path d="M305.5,283.0 306.7,283.2 306.5,284.2 305.3,284.0Z" fill="url(#h)" stroke="#cfcfcf"/>
<path d="M307.5,286.0 308.7,286.2 308.5,287.2 307.3,287.0Z" fill="url(#h)" stroke="#cfcfcf"/>
<path d="M333.0,255.0 335.0,254.8 335.2,255.8 333.2,256.0Z" fill="url(#h)" stroke="#cfcfcf"/>
<path d="M501.5,455.5 502.5,455.5 502.5,456.5 501.5,456.5Z" fill="url(#h)" stroke="#cfcfcf"/>
<path d="M198.6,297.3 195.4,303.7 198.6,310.0 205.0,313.2 207.0,317.4 206.0,322.7 201.8,325.9" fill="none" stroke="#cdcdcd"/>
<path d="M223.0,305.8 223.0,316.4" fill="none" stroke="#cdcdcd"/>
<path d="M230.4,313.2 230.4,321.7" fill="none" stroke="#cdcdcd"/>
<path d="M237.8,314.2 237.8,322.7" fill="none" stroke="#cdcdcd"/>
<path d="M176.4,327.0 183.8,325.9 189.0,328.0 193.3,332.3 197.5,334.4 200.7,336.5" fill="none" stroke="#cdcdcd"/>
<path d="M176.4,338.6 180.6,337.6 185.9,334.4 190.0,331.2 193.3,332.3" fill="none" stroke="#cdcdcd"/>
<path d="M185.0,306.0 188.0,303.0" fill="none" stroke="#cdcdcd"/>
<path d="M203.0,357.0 202.0,366.0 198.0,370.0" fill="none" stroke="#cdcdcd"/>
<path d="M204.0,374.0 206.0,386.0 216.0,384.0 220.0,382.0 226.0,376.0" fill="none" stroke="#cdcdcd"/>
<path d="M220.0,382.0 230.0,390.0 236.0,395.0 238.0,400.0" fill="none" stroke="#cdcdcd"/>
<path d="M203.0,374.0 205.5,385.0 208.0,385.0 209.8,400.6 209.0,416.0 209.0,431.0 211.0,440.0 214.0,449.0 216.7,456.7 221.0,462.4 226.6,465.2" fill="none" stroke="#cdcdcd"/>
<path d="M239.0,420.5 241.0,415.0 243.0,412.0" fill="none" stroke="#cdcdcd"/>
<path d="M358.8,235.0 360.0,242.0 354.0,246.8 347.0,250.3 343.5,253.8 343.0,256.2" fill="none" stroke="#cdcdcd"/>
<path d="M334.0,256.2 343.5,256.2" fill="none" stroke="#cdcdcd"/>
<path d="M343.5,256.8 337.6,260.3 336.5,265.6 334.0,268.0 333.0,272.6 324.7,273.2" fill="none" stroke="#cdcdcd"/>
<path d="M343.5,256.8 355.3,266.8 371.8,278.5" fill="none" stroke="#cdcdcd"/>
<path d="M348.2,263.2 350.6,288.0 336.5,288.0 333.0,285.6" fill="none" stroke="#cdcdcd"/>
<path d="M380.0,235.0 384.7,246.8 384.7,262.0 389.4,266.8 385.9,272.6 371.8,278.5 371.8,286.8 364.7,289.1" fill="none" stroke="#cdcdcd"/>
<path d="M389.4,266.8 396.5,269.1 417.6,276.2" fill="none" stroke="#cdcdcd"/>
<path d="M417.6,245.6 418.8,276.2" fill="none" stroke="#cdcdcd"/>
<path d="M418.8,270.3 444.7,270.3" fill="none" stroke="#cdcdcd"/>
<path d="M396.5,269.1 397.6,288.0 395.3,293.8" fill="none" stroke="#cdcdcd"/>
<path d="M417.6,276.2 416.5,288.0 414.0,293.8 415.3,305.0" fill="none" stroke="#cdcdcd"/>
<path d="M449.4,282.0 447.0,286.8 450.6,290.3 457.6,293.8" fill="none" stroke="#cdcdcd"/>
<path d="M420.0,300.9 429.4,302.0 437.6,297.4 442.4,300.9 447.0,305.0 452.0,305.0" fill="none" stroke="#cdcdcd"/>
<path d="M334.7,288.2 347.6,288.2 350.0,296.5" fill="none" stroke="#cdcdcd"/>
<path d="M351.2,297.6 353.5,291.8 363.0,290.6 366.5,296.5 370.0,298.8" fill="none" stroke="#cdcdcd"/>
<path d="M371.8,292.6 379.4,292.9 386.5,294.1 394.7,295.3 395.9,302.4 391.2,307.1 385.3,311.8 383.0,316.5" fill="none" stroke="#cdcdcd"/>
<path d="M371.2,292.9 370.0,302.4 370.0,311.8" fill="none" stroke="#cdcdcd"/>
<path d="M365.3,300.0 365.3,313.0" fill="none" stroke="#cdcdcd"/>
<path d="M363.0,299.4 363.5,313.0" fill="none" stroke="#cdcdcd"/>
<path d="M356.5,300.0 355.9,315.3" fill="none" stroke="#cdcdcd"/>
<path d="M334.7,295.3 341.8,297.6 344.1,303.5 345.3,309.4 344.1,315.3" fill="none" stroke="#cdcdcd"/>
<path d="M395.9,295.3 397.0,305.9 397.0,313.0 400.6,320.0" fill="none" stroke="#cdcdcd"/>
<path d="M398.2,310.6 405.3,309.4 412.4,305.9 418.2,302.4" fill="none" stroke="#cdcdcd"/>
<path d="M414.7,295.3 417.0,301.2 424.1,309.4 430.0,316.5" fill="none" stroke="#cdcdcd"/>
<path d="M384.1,322.4 394.7,322.4 395.9,330.6 393.5,335.3 391.2,341.2" fill="none" stroke="#cdcdcd"/>
<path d="M403.0,315.3 412.4,315.3 421.8,314.1 427.6,316.5 435.0,317.0 442.0,316.0" fill="none" stroke="#cdcdcd"/>
<path d="M403.0,315.3 400.6,327.0 397.0,338.8 392.4,343.5" fill="none" stroke="#cdcdcd"/>
<path d="M397.0,310.0 401.0,308.0 408.0,305.0 415.0,301.0" fill="none" stroke="#cdcdcd"/>
<path d="M416.0,304.0 421.0,301.0 428.0,303.0 435.0,300.0 438.0,297.0 440.0,303.0 439.0,307.0 444.0,314.0 442.0,318.0 435.0,319.0 429.0,317.0 424.0,313.0 418.0,306.0" fill="none" stroke="#cdcdcd"/>
<path d="M406.0,316.0 415.0,315.0 423.0,315.0 429.0,317.0" fill="none" stroke="#cdcdcd"/>
<path d="M440.0,303.0 445.0,296.0 451.0,292.0 459.0,298.0 464.0,303.0 472.0,308.0 465.0,315.0 457.0,319.0 451.0,319.0 444.0,314.0" fill="none" stroke="#cdcdcd"/>
<path d="M457.0,319.0 458.0,332.0" fill="none" stroke="#cdcdcd"/>
<path d="M441.0,330.0 453.0,340.0" fill="none" stroke="#cdcdcd"/>
<path d="M435.0,319.0 433.0,325.0 432.0,332.0 441.0,330.0 443.0,322.0 442.0,318.0" fill="none" stroke="#cdcdcd"/>
<path d="M432.0,332.0 430.0,338.0 432.0,348.0 431.7,350.0" fill="none" stroke="#cdcdcd"/>
<path d="M397.0,320.0 402.0,323.0 404.0,330.0 400.0,340.0" fill="none" stroke="#cdcdcd"/>
<path d="M390.8,341.7 398.3,343.3 403.3,348.3 410.0,346.7 413.3,353.3 415.0,357.5 413.3,361.7 413.3,371.7" fill="none" stroke="#cdcdcd"/>
<path d="M390.0,373.3 410.0,374.2 418.3,375.0" fill="none" stroke="#cdcdcd"/>
<path d="M410.0,375.0 410.0,396.7 408.3,396.7 400.0,403.3" fill="none" stroke="#cdcdcd"/>
<path d="M410.0,396.7 418.3,393.3 426.7,386.7 433.3,386.7" fill="none" stroke="#cdcdcd"/>
<path d="M415.0,357.5 418.3,360.0 426.7,361.7 430.0,360.0 430.0,350.8 433.3,350.0" fill="none" stroke="#cdcdcd"/>
<path d="M418.3,375.0 426.7,371.7 433.3,368.3 436.7,366.7" fill="none" stroke="#cdcdcd"/>
<path d="M433.3,386.7 438.3,381.7 438.3,371.7 436.7,366.7 440.0,363.3 441.7,370.0 441.7,375.0" fill="none" stroke="#cdcdcd"/>
<path d="M431.7,350.0 440.0,353.3 443.3,358.3 440.0,363.3" fill="none" stroke="#cdcdcd"/>
<path d="M440.0,353.3 455.0,355.0" fill="none" stroke="#cdcdcd"/>
<path d="M431.7,330.0 431.7,350.0" fill="none" stroke="#cdcdcd"/>
<path d="M423.0,404.0 426.0,402.5 428.0,405.0 425.0,408.0 422.5,406.5 423.0,404.0" fill="none" stroke="#cdcdcd"/>
<path d="M481.2,217.6 489.4,218.8 496.5,223.5 501.2,228.2 508.2,229.4" fill="none" stroke="#cdcdcd"/>
<path d="M477.6,230.6 487.0,229.4 494.1,233.0 497.6,235.3" fill="none" stroke="#cdcdcd"/>
<path d="M497.6,235.3 496.5,242.4 498.8,249.4 500.0,251.8 503.5,256.5 504.1,263.5" fill="none" stroke="#cdcdcd"/>
<path d="M500.0,251.8 505.9,251.8 513.0,247.0 516.5,238.8 515.3,233.0 520.0,230.6" fill="none" stroke="#cdcdcd"/>
<path d="M520.0,235.3 524.7,241.2 522.4,247.0 521.2,254.1 518.8,258.8 520.0,263.5" fill="none" stroke="#cdcdcd"/>
<path d="M501.2,228.2 508.2,229.4 515.3,227.0 518.8,229.4" fill="none" stroke="#cdcdcd"/>
<path d="M508.2,223.5 520.0,224.7" fill="none" stroke="#cdcdcd"/>
<path d="M510.6,220.0 517.6,217.6 525.9,217.6" fill="none" stroke="#cdcdcd"/>
<path d="M458.8,225.9 462.4,235.3 465.9,243.5 470.6,249.4" fill="none" stroke="#cdcdcd"/>
<path d="M451.8,220.0 458.8,221.2 460.0,224.0" fill="none" stroke="#cdcdcd"/>
<path d="M458.0,229.8 458.8,225.9" fill="none" stroke="#cdcdcd"/>
<path d="M451.8,231.0 451.8,235.3 452.9,238.8 449.4,244.7" fill="none" stroke="#cdcdcd"/>
<path d="M443.0,238.0 447.0,244.7 457.6,249.4 467.0,251.8 470.6,250.5" fill="none" stroke="#cdcdcd"/>
<path d="M442.4,244.4 451.8,245.6" fill="none" stroke="#cdcdcd"/>
<path d="M461.2,283.2 470.6,282.0 480.0,278.5 482.4,282.0" fill="none" stroke="#cdcdcd"/>
<path d="M480.0,278.5 487.0,269.1 488.2,264.4" fill="none" stroke="#cdcdcd"/>
<path d="M540.0,247.5 546.0,251.0 553.0,254.0 559.0,256.3" fill="none" stroke="#cdcdcd"/>
<path d="M558.0,258.0 562.0,258.0 566.0,260.0 567.0,264.0 566.0,268.0" fill="none" stroke="#cdcdcd"/>
<path d="M566.0,256.0 568.0,260.0 570.0,264.0 568.0,268.0" fill="none" stroke="#cdcdcd"/>
<path d="M585.0,265.0 587.5,273.8 585.0,278.8 588.8,286.3" fill="none" stroke="#cdcdcd"/>
<path d="M591.0,271.0 597.5,276.0 602.5,282.5 606.0,290.0 606.0,296.0" fill="none" stroke="#cdcdcd"/>
<path d="M587.5,273.8 595.0,282.5 600.0,287.5 597.5,291.0 602.5,291.0 606.0,296.0" fill="none" stroke="#cdcdcd"/>
<path d="M590.5,308.5 594.0,309.8" fill="none" stroke="#cdcdcd"/>
<path d="M688.0,341.0 688.0,352.0" fill="none" stroke="#cdcdcd"/>
<path d="M360.0,214.0 364.0,215.0 369.0,216.4" fill="none" stroke="#a2a2a2"/>
<path d="M347.0,218.0 346.0,225.6 347.6,231.7" fill="none" stroke="#a2a2a2"/>
<path d="M367.3,195.8 371.0,197.6 374.8,198.6 376.2,197.6" fill="none" stroke="#a2a2a2"/>
<path d="M372.0,192.0 375.8,193.0" fill="none" stroke="#a2a2a2"/>
<path d="M377.6,201.4 377.6,205.2 375.8,205.2 376.0,206.0 378.0,209.0 376.7,214.0" fill="none" stroke="#a2a2a2"/>
<path d="M375.8,205.2 379.5,204.2 382.4,205.2 381.4,207.0" fill="none" stroke="#a2a2a2"/>
<path d="M378.0,209.0 384.3,206.5 389.0,206.5 390.5,208.8" fill="none" stroke="#a2a2a2"/>
<path d="M383.3,204.2 388.0,203.8 392.7,202.4 396.5,201.4" fill="none" stroke="#a2a2a2"/>
<path d="M383.3,207.0 389.0,206.5 392.7,206.1 397.3,204.3" fill="none" stroke="#a2a2a2"/>
<path d="M396.5,199.5 396.5,201.4 401.2,202.4 405.9,201.4 407.8,202.8" fill="none" stroke="#a2a2a2"/>
<path d="M397.3,204.3 400.3,202.0 407.8,202.8 408.5,205.8 405.5,208.0 401.8,208.8 398.0,207.3 397.3,204.3" fill="none" stroke="#a2a2a2"/>
<path d="M389.8,208.0 395.0,208.8 396.5,208.8" fill="none" stroke="#a2a2a2"/>
<path d="M407.8,202.8 414.5,202.0 420.5,205.0 422.0,208.8 420.5,212.5 414.5,214.0 410.0,213.3 408.5,210.3 408.5,205.8" fill="none" stroke="#a2a2a2"/>
<path d="M417.5,201.3 422.0,205.0 422.0,208.8" fill="none" stroke="#a2a2a2"/>
<path d="M410.0,214.0 415.3,214.8 419.8,214.0 419.8,217.8 416.0,220.0 411.5,220.8 407.8,220.8" fill="none" stroke="#a2a2a2"/>
<path d="M409.5,194.8 419.0,193.8 426.5,192.7" fill="none" stroke="#a2a2a2"/>
<path d="M409.5,194.8 410.6,201.2 415.9,203.3 421.2,206.5" fill="none" stroke="#a2a2a2"/>
<path d="M406.4,184.2 410.6,182.1 415.9,181.0" fill="none" stroke="#a2a2a2"/>
<path d="M403.0,182.6 407.0,181.8 412.0,181.5" fill="none" stroke="#a2a2a2"/>
<path d="M407.0,176.0 410.0,176.8 416.0,176.0" fill="none" stroke="#a2a2a2"/>
<path d="M383.8,174.5 385.3,170.0 384.5,164.8 387.5,160.3 391.3,155.0 396.5,152.8 401.0,153.5 403.3,155.0" fill="none" stroke="#a2a2a2"/>
<path d="M401.0,160.6 403.3,158.8 403.3,155.0 407.0,151.3 410.0,150.5 411.5,152.8" fill="none" stroke="#a2a2a2"/>
<path d="M381.4,186.8 383.5,186.3" fill="none" stroke="#a2a2a2"/>
<path d="M153.5,280.9 154.0,284.0 152.5,288.3" fill="none" stroke="#cdcdcd"/>
<path d="M157.8,278.8 158.0,282.0 156.0,283.0" fill="none" stroke="#cdcdcd"/>
<path d="M161.8,282.1 160.0,286.0 158.5,289.5" fill="none" stroke="#cdcdcd"/>
<path d="M163.0,291.5 166.0,290.5 171.5,290.5" fill="none" stroke="#cdcdcd"/>
<path d="M164.8,298.8 168.0,298.0 170.5,297.8" fill="none" stroke="#cdcdcd"/>
<path d="M173.5,303.2 174.2,306.0 174.7,308.0" fill="none" stroke="#cdcdcd"/>
<path d="M186.0,305.0 187.0,308.5" fill="none" stroke="#cdcdcd"/>
</g><!--endmap-->
</svg>
<div class="t" id="src"><b style="color:#5e5e5e;font-size:12px">Data source:</b> Global Carbon Budget (2025)</div>
<div class="t" id="url">OurWorldinData.org/co2-and-greenhouse-gas-emissions | CC BY</div>
</body></html>
